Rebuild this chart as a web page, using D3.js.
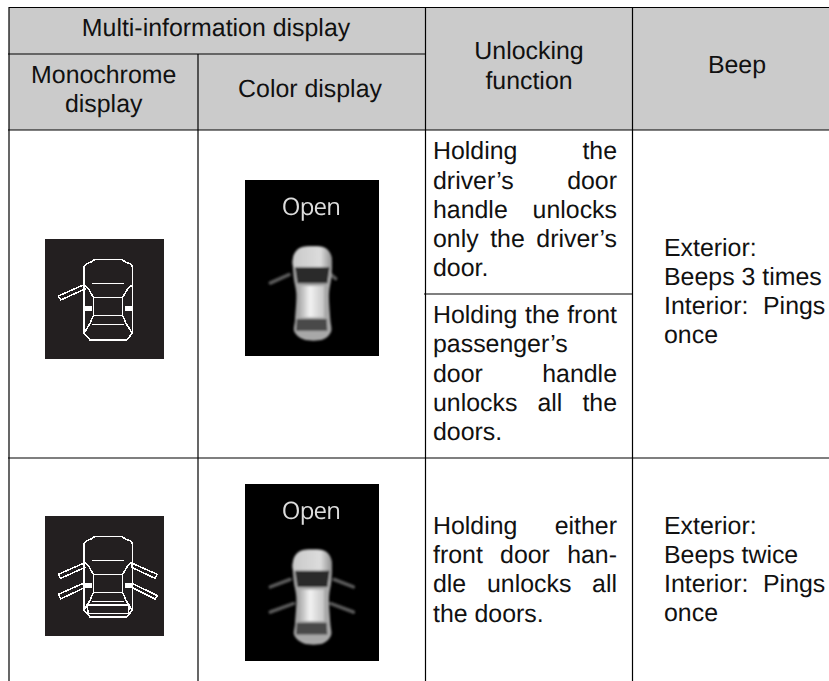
<!DOCTYPE html>
<html><head><meta charset="utf-8">
<style>html,body{margin:0;padding:0;background:#fff}svg{display:block}text{font-family:"Liberation Sans",Arial,sans-serif;fill:#111;text-rendering:geometricPrecision}</style>
<script src="https://cdn.jsdelivr.net/npm/d3@7"></script></head><body>
<svg id="c" width="829" height="681"></svg>
<script>
// ---- content ----
const headerCells = [
  {lines:["Multi-information display"], cx:216, base:[35.5]},
  {lines:["Monochrome","display"], cx:103.7, base:[82.5,112]},
  {lines:["Color display"], cx:310, base:[96.5]},
  {lines:["Unlocking","function"], cx:529, base:[59,88.5]},
  {lines:["Beep"], cx:737, base:[73]}
];
const unlockText = [
  {lines:["Holding the","driver’s door","handle unlocks","only the driver’s","door."], base:[158.5,188.5,217.5,246.5,275.5], justify:[1,1,1,1,0]},
  {lines:["Holding the front","passenger’s","door handle","unlocks all the","doors."], base:[322.5,351.5,381.5,410.5,439.5], justify:[1,0,1,1,0]},
  {lines:["Holding either","front door han-","dle unlocks all","the doors."], base:[533.5,562.5,591.5,621.5], justify:[1,1,1,0]}
];
const beepText = [
  {lines:["Exterior:","Beeps 3 times","Interior:  Pings","once"], base:[255.5,284.5,313.5,342.5]},
  {lines:["Exterior:","Beeps twice","Interior:  Pings","once"], base:[533.5,562.5,591.5,620.5]}
];
const gridV = [{x:9,y1:7,y2:681},{x:198,y1:54,y2:681},{x:425.5,y1:7,y2:681},{x:632.5,y1:7,y2:681}];
const gridH = [{y:7.5,x1:9,x2:829},{y:54,x1:8,x2:426},{y:130,x1:8,x2:829},{y:294,x1:424,x2:633},{y:458,x1:8,x2:829}];

// monochrome icon geometry, in source pixels of a 357x360 artwork
const monoBody = [[117,83],[122,76],[140,68],[150,61],[230,61],[240,68],[258,76],[262,83],[262,283],[245,303],[135,303],[117,283]];
const monoLines = [
  [[140,133],[238,133]],[[145,175],[233,175]],[[145,230],[233,230]],[[140,256],[238,256]],
  [[117,138],[130,148],[145,175],[145,230],[135,253]],
  [[262,138],[249,148],[233,175],[233,230],[243,253]],
  [[117,213],[140,213]],[[262,213],[239,213]],
  [[117,283],[135,253]],[[262,283],[243,253]]
];
const monoThick = [[[117,204],[140,204]],[[262,204],[239,204]]];
const monoDoorSingle = [[115,138],[40,171],[47,183],[120,150]];
const monoDoorFL = [[115,142],[40,175],[47,187],[120,154]];
const monoDoorRL = [[115,202],[40,235],[47,249],[120,214]];
const monoDoorFR = [[262,142],[337,175],[330,187],[260,154]];
const monoDoorRR = [[262,202],[337,239],[330,249],[260,214]];
const monoTrunk = [[125,267],[253,267],[250,292],[130,292]];
const monoIcons = [
  {y:239,w:119,h:120,doors:[monoDoorSingle],trunk:false},
  {y:516,w:119,h:120,doors:[monoDoorFL,monoDoorRL,monoDoorFR,monoDoorRR],trunk:true}
];

// colour icon geometry, in source pixels of a 402x528 artwork
const carOutline = [[146,225],[165,203],[202,198],[240,203],[258,225],[259,290],[252,340],[256,420],[258,455],[235,478],[175,478],[148,455],[150,420],[154,340],[146,290]];
const carHood = [[147,262],[147,225],[165,205],[202,200],[240,205],[257,225],[257,262]];
const carWind = [[150,262],[254,262],[247,310],[157,310]];
const carRoof = [[160,318],[237,318],[237,412],[160,412]];
const carRear = [[155,417],[245,417],[247,452],[153,452]];
const colorIcons = [
  {y:180,h:176,dy:0,doors:[[[76,309],[132,284]],[[255,282],[272,296]]]},
  {y:484,h:177,dy:-3,doors:[[[76,310],[135,288]],[[76,385],[145,360]],[[325,310],[268,288]],[[325,385],[258,360]]]}
];
const openLabel = "Open";

// ---- drawing ----
const svg = d3.select("#c");
const defs = svg.append("defs");
defs.append("filter").attr("id","b1").append("feGaussianBlur").attr("stdDeviation",0.8);
defs.append("filter").attr("id","b2").append("feGaussianBlur").attr("stdDeviation",0.4);
const g1 = defs.append("linearGradient").attr("id","roof");
g1.append("stop").attr("offset","0").attr("stop-color","#a5a5a5");
g1.append("stop").attr("offset","0.45").attr("stop-color","#f2f2f2");
g1.append("stop").attr("offset","1").attr("stop-color","#c5c5c5");
const g2 = defs.append("linearGradient").attr("id","hood").attr("x1",0).attr("x2",1).attr("y1",0).attr("y2",0);
g2.append("stop").attr("offset","0").attr("stop-color","#c9c9c9");
g2.append("stop").attr("offset","0.7").attr("stop-color","#dcdcdc");
g2.append("stop").attr("offset","1").attr("stop-color","#8d8d8d");

svg.append("rect").attr("x",9).attr("y",7).attr("width",820).attr("height",123).attr("fill","#cbcbcb");

const fs = 24.9;
const text = (sel,s,x,y,anchor,size)=>sel.append("text").attr("x",x).attr("y",y).attr("text-anchor",anchor||"start").attr("font-size",size||fs).text(s);

headerCells.forEach(c=>c.lines.forEach((l,i)=>text(svg,l,c.cx,c.base[i],"middle")));

const tg = svg.append("g");
const left=433, right=617;
unlockText.forEach(b=>b.lines.forEach((l,i)=>{
  const words=l.split(" ");
  if(!b.justify[i]||words.length<2){text(tg,l,left,b.base[i]);return;}
  const nodes=words.map(w=>text(tg,w,left,b.base[i]));
  const ws=nodes.map(n=>n.node().getComputedTextLength());
  const gap=(right-left-d3.sum(ws))/(words.length-1);
  let x=left;
  nodes.forEach((n,k)=>{n.attr("x",x);x+=ws[k]+gap;});
}));
beepText.forEach(b=>b.lines.forEach((l,i)=>{
  if(l.indexOf("  ")<0){text(tg,l,664,b.base[i]);return;}
  const p=l.split("  ");
  text(tg,p[0],664,b.base[i]);
  text(tg,p[1],763,b.base[i]);
}));

svg.selectAll(".gv").data(gridV).join("line").attr("x1",d=>d.x).attr("x2",d=>d.x).attr("y1",d=>d.y1).attr("y2",d=>d.y2).attr("stroke","#000").attr("stroke-width",1.2);
svg.selectAll(".gh").data(gridH).join("line").attr("x1",d=>d.x1).attr("x2",d=>d.x2).attr("y1",d=>d.y).attr("y2",d=>d.y).attr("stroke","#000").attr("stroke-width",1.1);

// monochrome icons
const line = d3.line();
monoIcons.forEach(ic=>{
  const sx=d3.scaleLinear().domain([0,357]).range([45,45+ic.w]);
  const sy=d3.scaleLinear().domain([0,360]).range([ic.y,ic.y+ic.h]);
  const P=a=>a.map(p=>[sx(p[0]),sy(p[1])]);
  const g=svg.append("g").attr("fill","none").attr("stroke","#fff").attr("stroke-width",1.5).attr("shape-rendering","crispEdges");
  g.append("rect").attr("x",sx(0)).attr("y",sy(0)).attr("width",ic.w).attr("height",ic.h).attr("fill","#231f20").attr("stroke","none");
  g.append("path").attr("d",line(P(monoBody))+"Z");
  g.selectAll(".l").data(monoLines).join("path").attr("d",d=>line(P(d)));
  g.selectAll(".t").data(monoThick).join("path").attr("d",d=>line(P(d))).attr("stroke-width",3);
  g.selectAll(".d").data(ic.doors).join("path").attr("d",d=>line(P(d))+"Z");
  if(ic.trunk) g.append("path").attr("d",line(P(monoTrunk))+"Z");
});

// colour icons
colorIcons.forEach(ic=>{
  const sx=d3.scaleLinear().domain([0,402]).range([245,379]);
  const sy=d3.scaleLinear().domain([0,528]).range([ic.y,ic.y+ic.h]);
  const P=a=>a.map(p=>[sx(p[0]),sy(p[1]+ic.dy)]);
  const g=svg.append("g");
  g.append("rect").attr("x",245).attr("y",ic.y).attr("width",134).attr("height",ic.h).attr("fill","#000");
  g.append("text").attr("x",311).attr("y",ic.y+34.5).attr("text-anchor","middle").attr("font-size",24).attr("letter-spacing",-0.8).attr("filter","url(#b2)")
    .style("font-family","'Open Sans'").style("fill","#dcdcdc").text(openLabel);
  const car=g.append("g").attr("filter","url(#b1)");
  car.selectAll(".door").data(ic.doors).join("path").attr("d",d=>line(P(d))).attr("stroke","#5a5a5a").attr("stroke-width",3.6).attr("stroke-linecap","round").attr("fill","none");
  car.append("path").attr("d",d3.line().curve(d3.curveCatmullRomClosed)(P(carOutline))).attr("fill","#a8a8a8");
  car.append("path").attr("d",d3.line().curve(d3.curveCatmullRomClosed.alpha(0.5))(P(carHood))).attr("fill","url(#hood)");
  car.append("path").attr("d",line(P(carRoof))+"Z").attr("fill","url(#roof)");
  car.append("path").attr("d",line(P(carWind))+"Z").attr("fill","#2b2b2b");
  car.append("path").attr("d",line(P(carRear))+"Z").attr("fill","#484848");
});
</script></body></html>
